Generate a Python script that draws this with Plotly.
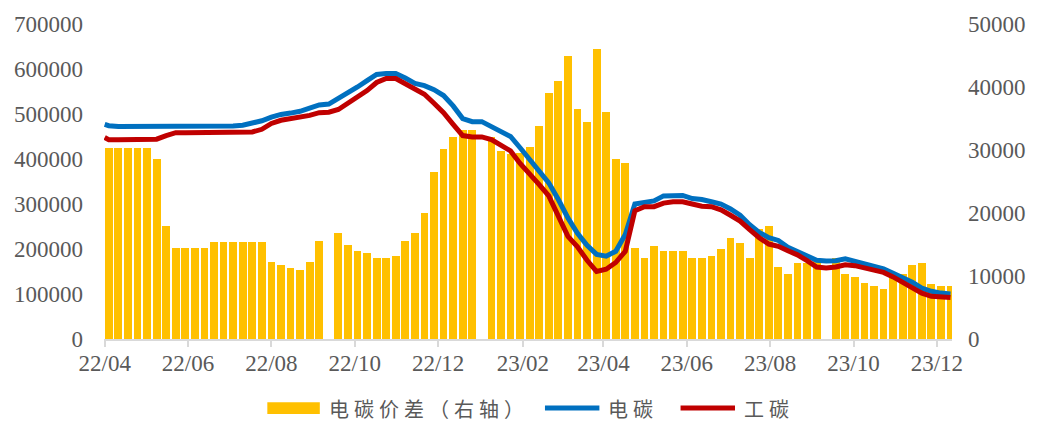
import pandas as pd
import plotly.graph_objects as go

# ---- data ----
# weekly sample dates (Mondays), first line point on 2022-04-01
week_dates = pd.date_range("2022-04-04", periods=89, freq="7D")
line_dates = [pd.Timestamp("2022-04-01")] + list(week_dates)

# 电碳价差（右轴） weekly values, None = no quote (holiday)
spread = [30250, 30250, 30250, 30250, 30250, 28500, 18000, 14370, 14370, 14370,
          14370, 15360, 15360, 15360, 15360, 15360, 15360, 12300, 11700, 11240,
          11000, 12300, 15500, None, 16800, 15000, 14000, 13600, 12900, 12900,
          13200, 15600, 16820, 20000, 26500, 30140, 32000, 33180, 33180, None,
          32000, 29890, 29300, 29500, 30500, 33800, 39000, 41000, 45000, 36500,
          34500, 46000, 36000, 28500, 28000, 14500, 12900, 14800, 13950, 13950,
          13950, 12900, 12900, 13100, 14300, 16000, 15250, 12900, 17500, 17860,
          11500, 10390, 12000, 12120, 12700, None, 12900, 10300, 9870, 8900,
          8460, 8000, 9800, 10290, 11700, 12000, 8800, 8460, 8460]

# 电碳
dian_tan = [477000,
            474000, 472000, 472000, 472000, 472000, 472000, 472000, 473500, 473500, 473500,
            473500, 473500, 473500, 473500, 475000, 479000, 485000, 493000, 499000, 502000,
            506000, 513000, 520000, 522000, 534000, 546000, 560000, 574000, 588000, 590000,
            590000, 580000, 568000, 563000, 554000, 541000, 518000, 490000, 483000, 483000,
            473000, 463000, 450000, 425000, 398000, 372000, 347000, 310000, 269000, 235000,
            208000, 188000, 184000, 195000, 232000, 300000, 303000, 307000, 318000, 319000,
            319000, 312000, 310000, 305000, 300000, 289000, 275000, 254000, 237000, 225000,
            219000, 204000, 195000, 184000, 175000, 173500, 174000, 178000, 173000, 167000,
            163000, 156000, 146000, 137000, 126000, 113000, 106000, 102000, 100000]

# 工碳
gong_tan = [447700,
            443000, 442600, 442600, 442600, 442600, 444000, 452000, 458600, 458600, 458600,
            458600, 458600, 458600, 458600, 458600, 460000, 466000, 479000, 486000, 489000,
            494000, 497000, 503000, 504000, 510000, 524000, 535000, 552000, 570000, 579000,
            579000, 567000, 553000, 544000, 524000, 503000, 477000, 452000, 449000, 449000,
            443000, 432000, 418000, 390000, 368000, 343000, 318000, 270000, 228000, 205000,
            175000, 150000, 155000, 170000, 195000, 285000, 294000, 294000, 302000, 305000,
            305000, 300000, 295000, 294000, 287000, 275000, 262000, 243000, 225000, 211000,
            206000, 196000, 187000, 174000, 160000, 158000, 160000, 165000, 163000, 158000,
            154000, 148000, 138000, 126000, 116000, 102000, 95000, 93000, 92500]

names = ["电碳价差（右轴）", "电碳", "工碳"]
colors = ["#FFC000", "#0070C0", "#C00000"]

NUM_FONT = dict(family="Liberation Serif, DejaVu Serif, serif", size=23, color="#595959")
CJK_FONT = dict(family="Noto Sans CJK SC, sans-serif", size=20, color="#595959")
DAY_MS = 86400000

fig = go.Figure()
fig.add_trace(go.Bar(x=week_dates, y=spread, name=names[0], yaxis="y",
                     marker=dict(color=colors[0], line=dict(width=0)),
                     width=5.7 * DAY_MS, showlegend=False))
fig.add_trace(go.Scatter(x=line_dates, y=dian_tan, name=names[1], yaxis="y2",
                         mode="lines", line=dict(color=colors[1], width=5),
                         showlegend=False))
fig.add_trace(go.Scatter(x=line_dates, y=gong_tan, name=names[2], yaxis="y2",
                         mode="lines", line=dict(color=colors[2], width=5),
                         showlegend=False))

fig.update_layout(
    width=1038, height=423,
    margin=dict(l=104, r=78, t=20, b=84),
    paper_bgcolor="white", plot_bgcolor="white",
    bargap=0,
    xaxis=dict(type="date", range=["2022-03-31 12:00", "2023-12-12 02:00"],
               tick0="2022-04-01", dtick="M2", tickformat="%y/%m",
               showgrid=False, zeroline=False,
               showline=True, linecolor="#D9D9D9", linewidth=2,
               ticks="outside", ticklen=6, tickwidth=2, tickcolor="#D9D9D9",
               tickfont=NUM_FONT, ticklabelstandoff=-4),
    yaxis=dict(side="right", range=[0, 50000], dtick=10000, tickformat="d",
               showgrid=False, zeroline=False, showline=False,
               tickfont=NUM_FONT, ticklabelstandoff=15),
    yaxis2=dict(side="left", overlaying="y", range=[0, 700000], dtick=100000,
                tickformat="d", showgrid=False, zeroline=False, showline=False,
                tickfont=NUM_FONT, ticklabelstandoff=20),
)

# legend drawn below the plot area
leg_y = -0.2194
fig.add_shape(type="rect", xref="paper", yref="paper",
              x0=0.1926, x1=0.2545, y0=-0.2006, y1=-0.2382,
              fillcolor=colors[0], line=dict(width=0))
fig.add_shape(type="line", xref="paper", yref="paper",
              x0=0.5200, x1=0.5842, y0=leg_y, y1=leg_y,
              line=dict(color=colors[1], width=5))
fig.add_shape(type="line", xref="paper", yref="paper",
              x0=0.6799, x1=0.7441, y0=leg_y, y1=leg_y,
              line=dict(color=colors[2], width=5))
for xpos, txt in [(0.2631, names[0]), (0.5924, names[1]), (0.7523, names[2])]:
    fig.add_annotation(xref="paper", yref="paper", x=xpos, y=leg_y,
                       text='<span style="letter-spacing:5px">' + txt + '</span>',
                       showarrow=False, xanchor="left", yanchor="middle",
                       font=CJK_FONT)

fig.write_html("out.html", config={"displayModeBar": False},
               post_script="document.body.style.margin='0';document.body.style.overflow='hidden';")
